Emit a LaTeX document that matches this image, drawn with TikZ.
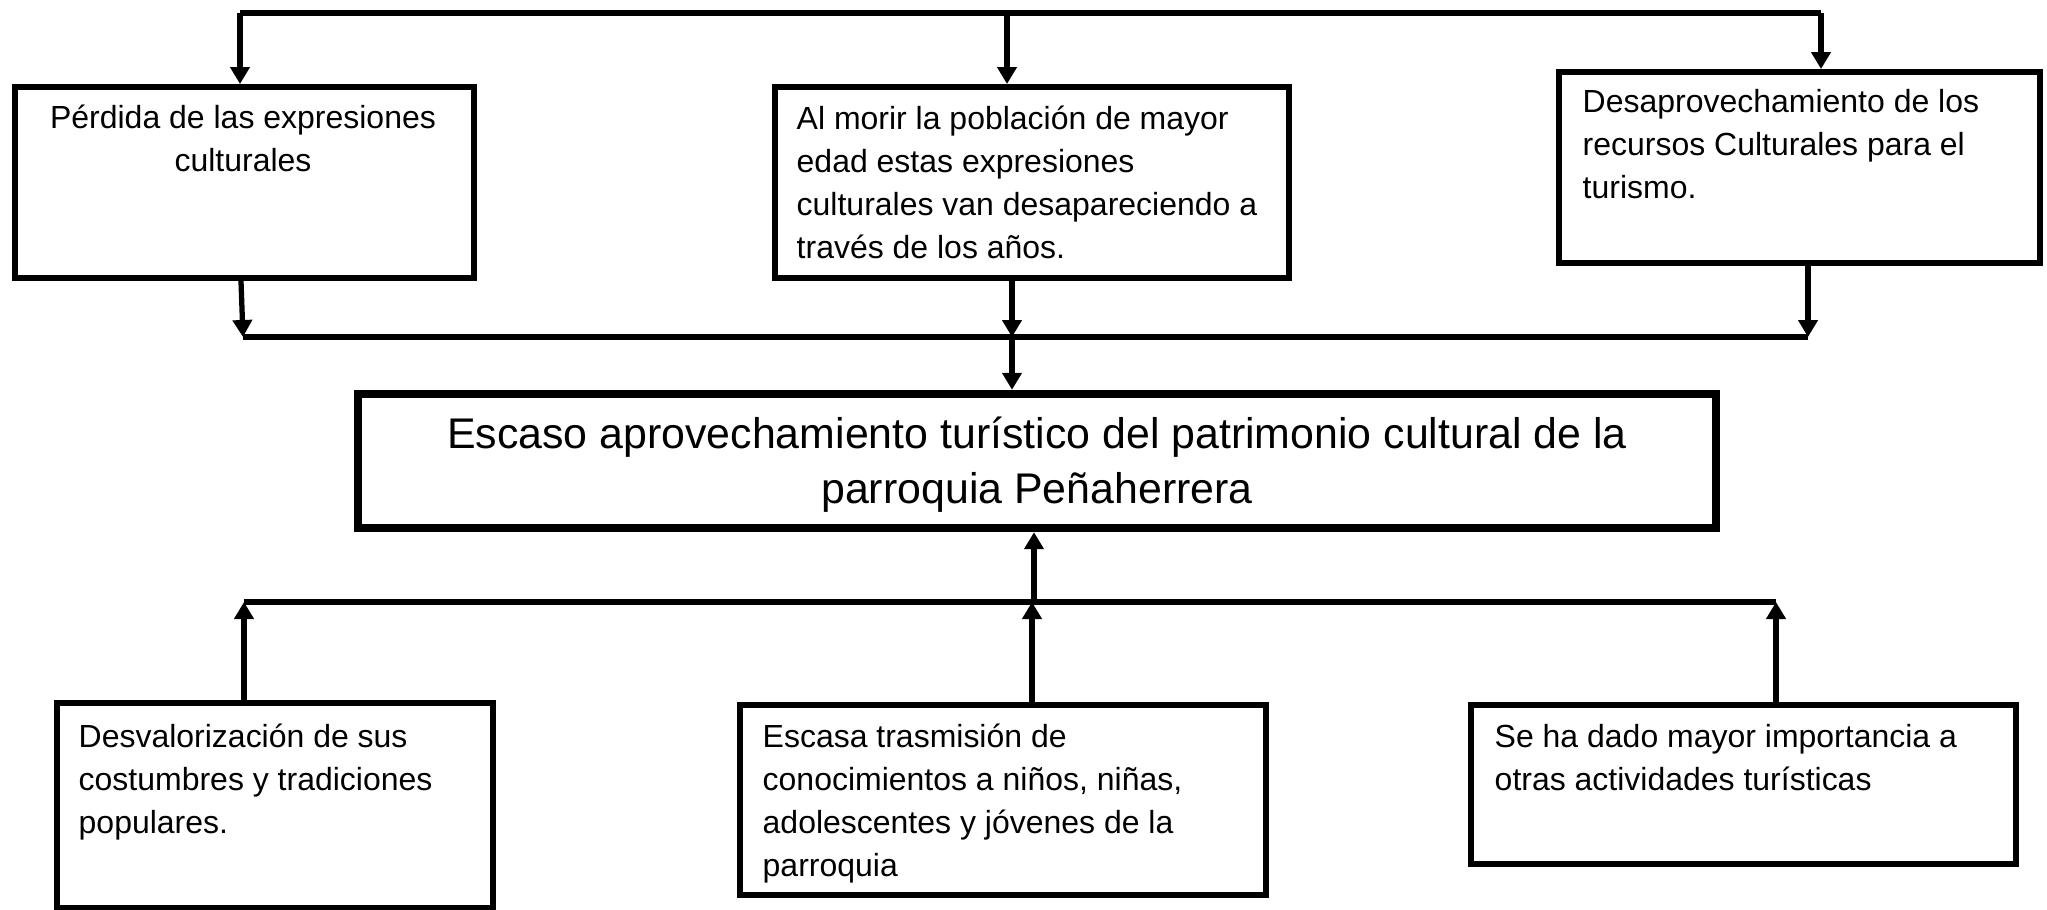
\documentclass[tikz,border=0pt]{standalone}
\usepackage{fontspec}
\setmainfont{Liberation Sans}
\usetikzlibrary{arrows.meta}
\begin{document}
\begin{tikzpicture}[x=1cm,y=1cm,line join=miter,
  box/.style={draw,line width=1.7pt,inner sep=0pt},
  mainbox/.style={draw,line width=2.4pt,inner sep=0pt},
  txt/.style={inner sep=0pt,align=left,font=\fontsize{9.1pt}{12.2pt}\selectfont},
  maintxt/.style={inner sep=0pt,align=center,font=\fontsize{12.2pt}{15.6pt}\selectfont},
  bus/.style={line width=1.6pt},
  arr/.style={line width=1.5pt,-{Triangle[length=1.7mm,width=1.9mm]}}]
  \useasboundingbox (0,0) rectangle (20.47,-9.09);
  % boxes
  \node[box,minimum width=4.59cm,minimum height=1.91cm] (perdida) at (2.445,-1.825) {};
  \node[box,minimum width=5.14cm,minimum height=1.91cm] (morir) at (10.32,-1.825) {};
  \node[box,minimum width=4.81cm,minimum height=1.91cm] (desap) at (17.995,-1.675) {};
  \node[mainbox,minimum width=13.58cm,minimum height=1.34cm] (escaso) at (10.37,-4.61) {};
  \node[box,minimum width=4.36cm,minimum height=2.05cm] (desval) at (2.75,-8.055) {};
  \node[box,minimum width=5.26cm,minimum height=1.90cm] (trasm) at (10.03,-8.0) {};
  \node[box,minimum width=5.45cm,minimum height=1.59cm] (activ) at (17.435,-7.845) {};
  % texts (base = last line)
  \node[txt,align=center,anchor=base] (tperdida) at (2.43,-1.71) {Pérdida de las expresiones\\culturales};
  \node[txt,anchor=base west] (tmorir) at (7.96,-2.58) {Al morir la población de mayor\\edad estas expresiones\\culturales van desapareciendo a\\través de los años.};
  \node[txt,anchor=base west] (tdesap) at (15.82,-1.98) {Desaprovechamiento de los\\recursos Culturales para el\\turismo.};
  \node[maintxt,anchor=base] (tescaso) at (10.37,-5.03) {Escaso aprovechamiento turístico del patrimonio cultural de la\\parroquia Peñaherrera};
  \node[txt,anchor=base west] (tdesval) at (0.78,-8.33) {Desvalorización de sus\\costumbres y tradiciones\\populares.};
  \node[txt,anchor=base west] (ttrasm) at (7.62,-8.76) {Escasa trasmisión de\\conocimientos a niños, niñas,\\adolescentes y jóvenes de la\\parroquia};
  \node[txt,anchor=base west] (tactiv) at (14.94,-7.90) {Se ha dado mayor importancia a\\otras actividades turísticas};
  % top bus
  \coordinate (t1) at (2.40,-0.13);
  \coordinate (t2) at (10.07,-0.13);
  \coordinate (t3) at (18.21,-0.13);
  \draw[bus] (t1) -- (t3);
  \draw[arr] (t1) -- (t1 |- perdida.north);
  \draw[arr] (t2) -- (t2 |- morir.north);
  \draw[arr] (t3) -- (t3 |- desap.north);
  % middle bus
  \coordinate (m1) at (2.43,-3.37);
  \coordinate (m2) at (10.12,-3.37);
  \coordinate (m3) at (18.08,-3.37);
  \draw[bus] (m1) -- (m3);
  \draw[arr] ([xshift=-0.35mm]perdida.south) -- (m1);
  \draw[arr] (m2 |- morir.south) -- (m2);
  \draw[arr] (m3 |- desap.south) -- (m3);
  \draw[arr] (m2) -- (m2 |- escaso.north);
  % bottom bus
  \coordinate (b1) at (2.44,-6.02);
  \coordinate (b2) at (10.32,-6.02);
  \coordinate (b3) at (17.76,-6.02);
  \coordinate (b4) at (10.34,-6.02);
  \draw[bus] (b1) -- (b3);
  \draw[arr] (b1 |- desval.north) -- (b1);
  \draw[arr] (b2 |- trasm.north) -- (b2);
  \draw[arr] (b3 |- activ.north) -- (b3);
  \draw[arr] (b4) -- (b4 |- escaso.south);
\end{tikzpicture}
\end{document}
